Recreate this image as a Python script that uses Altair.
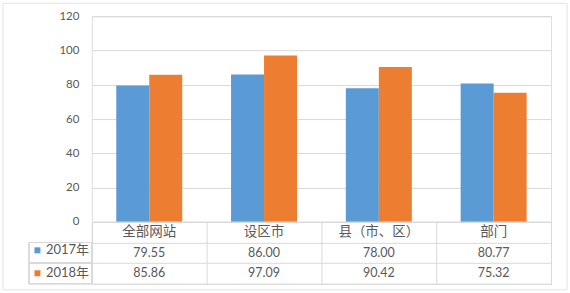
import altair as alt
import pandas as pd

categories = ["全部网站", "设区市", "县（市、区）", "部门"]
years = ["2017年", "2018年"]
values_2017 = [79.55, 86.00, 78.00, 80.77]
values_2018 = [85.86, 97.09, 90.42, 75.32]
y_ticks = [0, 20, 40, 60, 80, 100, 120]
colors = ["#5B9BD5", "#ED7D31"]

bars = pd.DataFrame({
    "category": categories * 2,
    "year": [years[0]] * len(categories) + [years[1]] * len(categories),
    "value": values_2017 + values_2018,
})

rows = ["header"] + years
records = []
for i, c in enumerate(categories):
    records.append({"category": c, "row": "header", "text": c, "kind": "head"})
    records.append({"category": c, "row": years[0], "text": f"{values_2017[i]:.2f}", "kind": "num"})
    records.append({"category": c, "row": years[1], "text": f"{values_2018[i]:.2f}", "kind": "num"})
table = pd.DataFrame(records)

FONT = "Lato, Noto Sans CJK SC, sans-serif"
GRID = "#d9d9d9"
TXT = "#595959"

top = alt.Chart(bars).mark_bar().encode(
    x=alt.X("category:N", sort=categories,
            scale=alt.Scale(paddingInner=0, paddingOuter=0), axis=None),
    xOffset=alt.XOffset("year:N", sort=years,
                        scale=alt.Scale(paddingInner=0, paddingOuter=0.74)),
    y=alt.Y("value:Q", scale=alt.Scale(domain=[0, 120]),
            axis=alt.Axis(values=y_ticks, title=None, domain=False, ticks=False,
                          labelPadding=13, labelColor=TXT, labelFontSize=11.5,
                          labelFont=FONT, gridColor=GRID)),
    color=alt.Color("year:N", sort=years,
                    scale=alt.Scale(domain=years, range=colors),
                    legend=alt.Legend(title=None, orient="none", legendX=-61, legendY=228,
                                      symbolType="square", symbolSize=36,
                                      symbolStrokeWidth=0, labelColor=TXT,
                                      labelFontSize=13, labelFont=FONT,
                                      rowPadding=9, padding=0, labelOffset=2)),
).properties(width=460, height=206)

base = alt.Chart(table).encode(
    x=alt.X("category:N", sort=categories,
            scale=alt.Scale(paddingInner=0, paddingOuter=0),
            axis=alt.Axis(title=None, labels=False, ticks=False, domain=False,
                          grid=True, gridColor=GRID, tickBand="extent")),
    y=alt.Y("row:N", sort=rows,
            scale=alt.Scale(domain=rows, paddingInner=0, paddingOuter=0),
            axis=alt.Axis(title=None, labels=False, ticks=False, domain=False,
                          grid=True, gridColor=GRID, tickBand="extent")),
)
head_cells = base.transform_filter(alt.datum.kind == "head").mark_text(
    font=FONT, fontSize=13.5, color=TXT).encode(text="text:N")
num_cells = base.transform_filter(alt.datum.kind == "num").mark_text(
    font=FONT, fontSize=12.5, color=TXT).encode(text="text:N")
left_cells = alt.Chart(table).transform_filter(
    alt.FieldOneOfPredicate(field="row", oneOf=years)
).mark_rect(fill=None, stroke=GRID, strokeWidth=1).encode(
    y=alt.Y("row:N", sort=rows),
    x=alt.value(-63), x2=alt.value(0),
)
frame = alt.Chart(table).transform_filter(
    (alt.datum.row == "header") & (alt.datum.category == categories[0])
).mark_rect(fill=None, stroke="#e3e3e3", strokeWidth=1).encode(
    x=alt.value(-89), x2=alt.value(476), y=alt.value(-219), y2=alt.value(68))
bottom = alt.layer(head_cells, num_cells, left_cells, frame).properties(width=460, height=62)

chart = alt.vconcat(top, bottom, spacing=0, bounds="flush").properties(
    padding={"left": 2, "top": 2, "right": 2, "bottom": 3},
    background="white",
).configure_view(stroke=None).configure(font=FONT)

chart.save("out.html", embed_options={"renderer": "svg", "actions": False})
